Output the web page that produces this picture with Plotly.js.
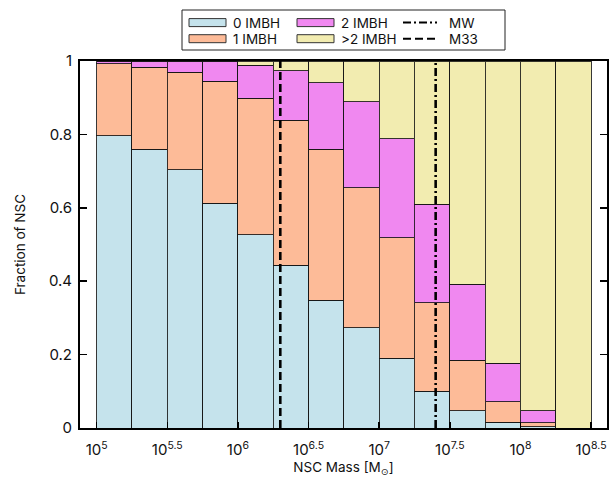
<!DOCTYPE html>
<html>
<head>
<meta charset="utf-8">
<script src="https://cdn.plot.ly/plotly-3.0.1.min.js"></script>
<style>
  html, body { margin: 0; padding: 0; background: #fff; }
  #chart { width: 610px; height: 487px; }
</style>
</head>
<body>
<div id="chart"></div>
<script>
// Bin left edges in log10(M / Msun), each bin 0.25 dex wide
const binEdges = [5.0, 5.25, 5.5, 5.75, 6.0, 6.25, 6.5, 6.75, 7.0, 7.25, 7.5, 7.75, 8.0, 8.25];
const binWidth = 0.25;

// Fraction of NSCs hosting a given number of IMBHs, per mass bin
const zeroImbh = [0.797, 0.759, 0.704, 0.612, 0.526, 0.444, 0.348, 0.273, 0.190, 0.100, 0.047, 0.016, 0.004, 0.0];
const oneImbh  = [0.195, 0.224, 0.265, 0.333, 0.372, 0.394, 0.411, 0.381, 0.328, 0.241, 0.137, 0.055, 0.010, 0.0];
const twoImbh  = [0.008, 0.017, 0.031, 0.055, 0.091, 0.136, 0.182, 0.235, 0.270, 0.269, 0.208, 0.105, 0.033, 0.0];
const moreImbh = [0.0,   0.0,   0.0,   0.0,   0.011, 0.026, 0.059, 0.111, 0.212, 0.390, 0.608, 0.824, 0.953, 1.0];

const seriesNames = ['0 IMBH', '1 IMBH', '2 IMBH', '>2 IMBH'];
const seriesColors = ['#c5e3ec', '#fdbb98', '#f088f0', '#f2ecb0'];

// Reference NSC masses, log10(M / Msun)
const mwLogMass = 7.4;
const m33LogMass = 6.3;

// Axis ticks
const xTickVals = [5, 5.5, 6, 6.5, 7, 7.5, 8, 8.5];
const xTickText = ['10<sup>5</sup>', '10<sup>5.5</sup>', '10<sup>6</sup>', '10<sup>6.5</sup>',
                   '10<sup>7</sup>', '10<sup>7.5</sup>', '10<sup>8</sup>', '10<sup>8.5</sup>'];
const yTickVals = [0, 0.2, 0.4, 0.6, 0.8, 1];

const FONT = 'Inter, "DejaVu Sans", sans-serif';
const W = 610, H = 487;
const M = { l: 80, r: 3, t: 61, b: 59 };
const plotW = W - M.l - M.r, plotH = H - M.t - M.b;

// pixel -> paper helpers for the legend block above the plot
const px = x => (x - M.l) / plotW;
const py = y => (H - M.b - y) / plotH;

const binCenters = binEdges.map(e => e + binWidth / 2);
const seriesValues = [zeroImbh, oneImbh, twoImbh, moreImbh];

const traces = seriesValues.map((vals, i) => ({
  type: 'bar',
  name: seriesNames[i],
  x: binCenters,
  y: vals,
  width: binWidth,
  marker: { color: seriesColors[i], line: { color: 'rgba(20,20,20,0.85)', width: 1 } },
  showlegend: false,
  hoverinfo: 'skip'
}));

traces.push({
  type: 'scatter', mode: 'lines', name: 'MW',
  x: [mwLogMass, mwLogMass], y: [0, 1],
  line: { color: '#000', width: 2.6, dash: '8px,3px,2px,3px' },
  showlegend: false, hoverinfo: 'skip'
});
traces.push({
  type: 'scatter', mode: 'lines', name: 'M33',
  x: [m33LogMass, m33LogMass], y: [0, 1],
  line: { color: '#000', width: 2.6, dash: '8px,4px' },
  showlegend: false, hoverinfo: 'skip'
});

// Legend drawn as a boxed 3x2 grid
const shapes = [];
const annotations = [];
shapes.push({
  type: 'rect', xref: 'paper', yref: 'paper',
  x0: px(182), x1: px(505), y0: py(50), y1: py(10),
  line: { color: '#222', width: 1 }, fillcolor: '#fff'
});
const rowY = [22.6, 38.7];
const colX = [189, 297];
seriesNames.forEach((name, i) => {
  const c = Math.floor(i / 2), r = i % 2;
  const x0 = colX[c], yc = rowY[r];
  shapes.push({
    type: 'rect', xref: 'paper', yref: 'paper',
    x0: px(x0), x1: px(x0 + 37), y0: py(yc + 4), y1: py(yc - 4),
    fillcolor: seriesColors[i], line: { color: '#333', width: 1 }
  });
  annotations.push({
    xref: 'paper', yref: 'paper', x: px(x0 + 42), y: py(yc + 0.5),
    xanchor: 'left', yanchor: 'middle', showarrow: false,
    text: name, font: { family: FONT, size: 13.5, color: '#111' }
  });
});
[['MW', '8px,3px,2px,3px'], ['M33', '8px,4px']].forEach(([name, dash], r) => {
  const yc = rowY[r];
  shapes.push({
    type: 'line', xref: 'paper', yref: 'paper',
    x0: px(403), x1: px(437), y0: py(yc), y1: py(yc),
    line: { color: '#000', width: 2, dash: dash }
  });
  annotations.push({
    xref: 'paper', yref: 'paper', x: px(447), y: py(yc + 0.5),
    xanchor: 'left', yanchor: 'middle', showarrow: false,
    text: name, font: { family: FONT, size: 13.5, color: '#111' }
  });
});

const layout = {
  width: W, height: H,
  margin: M,
  paper_bgcolor: '#fff', plot_bgcolor: '#fff',
  barmode: 'stack', bargap: 0,
  showlegend: false,
  font: { family: FONT, size: 15, color: '#111' },
  xaxis: {
    range: [4.882, 8.613],
    tickmode: 'array', tickvals: xTickVals, ticktext: xTickText,
    ticks: 'inside', ticklen: 6, tickwidth: 1.5, tickcolor: '#000',
    ticklabelstandoff: 7,
    showline: true, linewidth: 2, linecolor: '#000', mirror: true,
    showgrid: false, zeroline: false,
    tickfont: { family: FONT, size: 15 },
    title: { text: 'NSC Mass [M<sub>⊙</sub>]', font: { family: FONT, size: 13.5 }, standoff: 5 }
  },
  yaxis: {
    range: [0, 1],
    tickmode: 'array', tickvals: yTickVals,
    ticks: 'inside', ticklen: 7, tickwidth: 1.5, tickcolor: '#000',
    ticklabelstandoff: 3,
    showline: true, linewidth: 2, linecolor: '#000', mirror: 'ticks',
    showgrid: false, zeroline: false,
    tickfont: { family: FONT, size: 15 },
    title: { text: 'Fraction of NSC', font: { family: FONT, size: 13.5 }, standoff: 20 }
  },
  shapes: shapes,
  annotations: annotations
};

Plotly.newPlot('chart', traces, layout, { displayModeBar: false, staticPlot: true });
</script>
</body>
</html>
